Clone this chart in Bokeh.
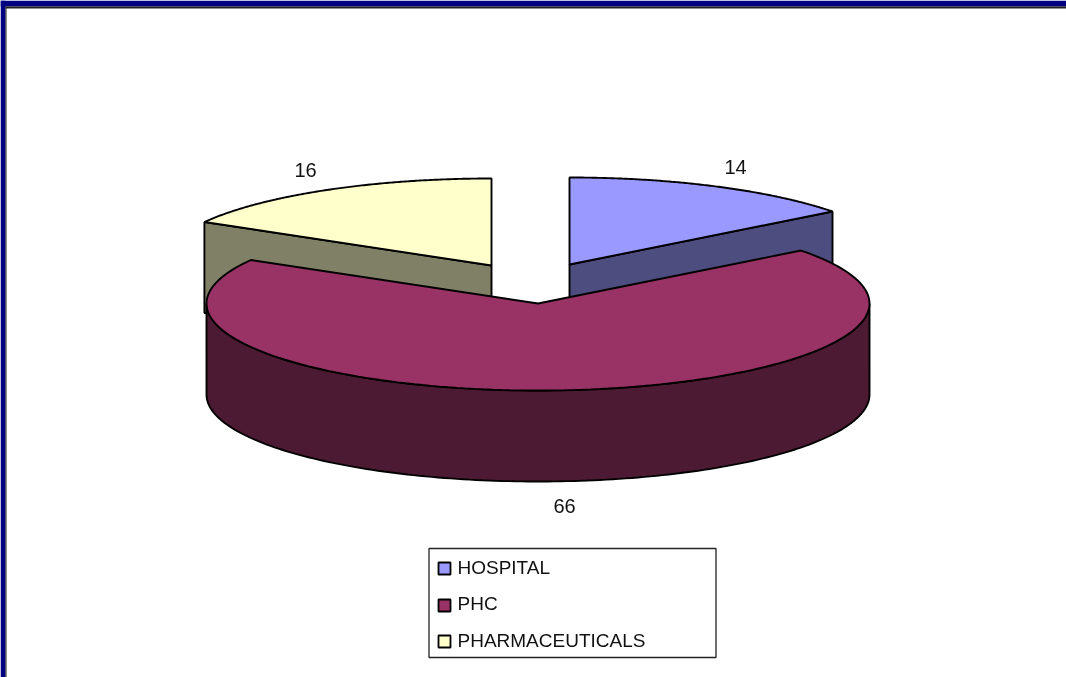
import numpy as np
from bokeh.plotting import figure
from bokeh.models import Range1d
from bokeh.core.properties import value
from bokeh.embed import file_html
from bokeh.resources import INLINE

# Data
categories = ["HOSPITAL", "PHC", "PHARMACEUTICALS"]
values = [14, 66, 16]
top_colors = ["#9999FF", "#993366", "#FFFFCC"]
side_colors = ["#4D4D80", "#4D1A33", "#808066"]

# Layout (pixels in the window)
W, H = 1066, 677
A, B, DEPTH = 331.5, 87.0, 91.0
APEX = [(569.0, 264.0), (537.5, 303.0), (491.0, 265.0)]
LABEL_POS = [(735, 166), (564, 505), (305, 169)]
LEGEND_Y = [567, 603, 640]
SWATCH_Y = [568, 605, 641]
FONT = value("Liberation Sans")

p = figure(width=W, height=H, output_backend="svg", toolbar_location=None,
           x_range=Range1d(0, W), y_range=Range1d(H, 0),
           x_axis_type=None, y_axis_type=None, min_border=0,
           outline_line_color=None, background_fill_color="white",
           border_fill_color="white",
           styles={"position": "fixed", "left": "0px", "top": "0px"})
p.grid.visible = False

# window frame of the original slide
p.quad(left=[0, 0], right=[W, 5], top=[0, 0], bottom=[6, H], color="#000080", line_color=None)
p.quad(left=[5, 5], right=[W, 6], top=[6, 6], bottom=[8, H], color="#222222", line_color=None)

# slice angles, clockwise from twelve o'clock
total = sum(values)
edges = np.concatenate([[0], np.cumsum(values)]) / total * 2 * np.pi
def rim(cx, cy, t0, t1, n=160):
    t = np.linspace(t0, t1, n)
    return cx + A * np.sin(t), cy - B * np.cos(t)

LW = 1.9
# back slices: cut face first, then the top
for i in (2, 0):
    cx, cy = APEX[i]
    t0, t1 = edges[i], edges[i + 1]
    edge = t0 if i == 2 else t1
    ex, ey = cx + A * np.sin(edge), cy - B * np.cos(edge)
    p.patch([ex, cx, cx, ex], [ey, cy, cy + DEPTH, ey + DEPTH],
            fill_color=side_colors[i], line_color="black", line_width=LW)
    x, y = rim(cx, cy, t0, t1)
    p.patch(np.r_[cx, x], np.r_[cy, y], fill_color=top_colors[i],
            line_color="black", line_width=LW)

# front slice
cx, cy = APEX[1]
x, y = rim(cx, cy, np.pi / 2, 3 * np.pi / 2)
p.patch(np.r_[x, x[::-1]], np.r_[y, y[::-1] + DEPTH], fill_color=side_colors[1],
        line_color="black", line_width=LW)
x, y = rim(cx, cy, edges[1], edges[2])
p.patch(np.r_[cx, x], np.r_[cy, y], fill_color=top_colors[1],
        line_color="black", line_width=LW)

# data labels
p.text(x=[q[0] for q in LABEL_POS], y=[q[1] for q in LABEL_POS],
       text=[str(v) for v in values], text_font=FONT, text_font_size="20px",
       text_color="#111111", text_align="center", text_baseline="middle")

# legend
p.quad(left=[428.5], right=[715.5], top=[548], bottom=[657], fill_color="white",
       line_color="#222222", line_width=1.3)
p.quad(left=[438] * 3, right=[450] * 3, top=[q - 6 for q in SWATCH_Y],
       bottom=[q + 6 for q in SWATCH_Y], fill_color=top_colors, line_color="black", line_width=1.8)
p.text(x=[457] * 3, y=LEGEND_Y, text=categories, text_font=FONT, text_font_size="19px",
       text_color="#111111", text_align="left", text_baseline="middle")

open("out.html", "w").write(file_html(p, INLINE))
